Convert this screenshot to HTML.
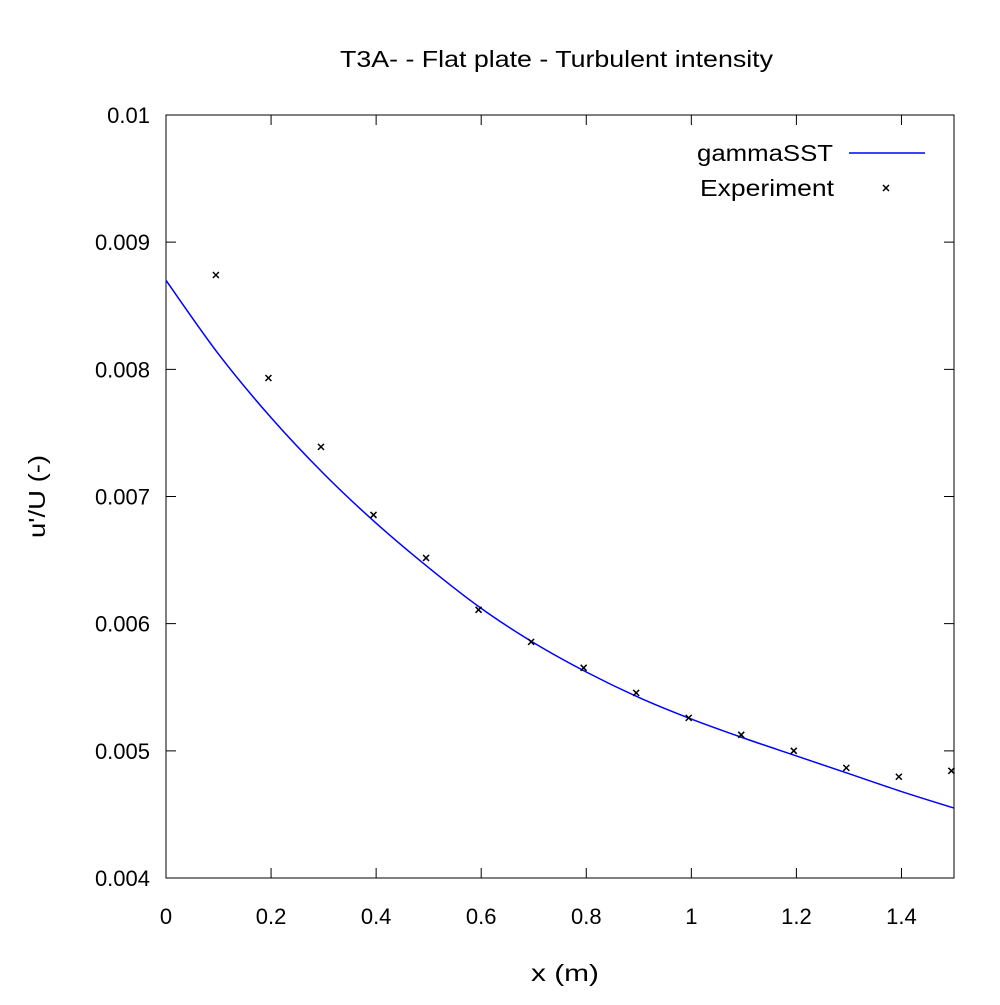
<!DOCTYPE html>
<html><head><meta charset="utf-8"><style>
body{margin:0;background:#fff}
svg text{font-family:"Liberation Sans",sans-serif;fill:#000}
</style></head><body>
<svg width="1000" height="1000" viewBox="0 0 1000 1000">
<g id="axes"></g>
<g id="plot"></g>
<text x="340" y="67" font-size="23" textLength="433" lengthAdjust="spacingAndGlyphs">T3A- - Flat plate - Turbulent intensity</text>
<text x="531" y="981" font-size="23" textLength="68" lengthAdjust="spacingAndGlyphs">x (m)</text>
<text transform="translate(45,538) rotate(-90)" font-size="23" textLength="83" lengthAdjust="spacingAndGlyphs">u'/U (-)</text>
<g>
<text x="697" y="161" font-size="23" textLength="136" lengthAdjust="spacingAndGlyphs">gammaSST</text>
<line x1="849" y1="153" x2="925" y2="153" stroke="#0000ff" stroke-width="1.5"/>
<text x="700" y="196" font-size="23" textLength="134" lengthAdjust="spacingAndGlyphs">Experiment</text>
<path d="M883 185 l6 6 M889 185 l-6 6" stroke="#000" stroke-width="1.5"/>
</g>
</svg>
<script>
const xTicks=[0,0.2,0.4,0.6,0.8,1,1.2,1.4];
const xTickLabels=["0","0.2","0.4","0.6","0.8","1","1.2","1.4"];
const yTicks=[0.004,0.005,0.006,0.007,0.008,0.009,0.01];
const yTickLabels=["0.004","0.005","0.006","0.007","0.008","0.009","0.01"];
const curveX=[0,0.1,0.2,0.3,0.4,0.5,0.6,0.7,0.8,0.9,1.0,1.1,1.2,1.3,1.4,1.5];
const curveY=[0.00870,0.00812,0.00762,0.00718,0.00679,0.00644,0.00612,0.00585,0.00562,0.00542,0.00525,0.00510,0.00496,0.00482,0.00468,0.00455];
const expX=[0.095,0.195,0.295,0.395,0.495,0.595,0.695,0.795,0.895,0.995,1.095,1.195,1.295,1.395,1.495];
const expY=[0.008742,0.007932,0.007390,0.006855,0.006517,0.006109,0.005857,0.005653,0.005456,0.005259,0.005126,0.005000,0.004866,0.004796,0.004843];
const L=166,R=954,T=115,B=878;
const sx=v=>L+(v-0)/1.5*(R-L);
const sy=v=>B-(v-0.004)/0.006*(B-T);
const NS="http://www.w3.org/2000/svg";
function mk(tag,attrs,parent){const e=document.createElementNS(NS,tag);for(const k in attrs)e.setAttribute(k,attrs[k]);parent.appendChild(e);return e;}
const axes=document.getElementById('axes'),plot=document.getElementById('plot');
const frame=mk('rect',{x:L,y:T,width:R-L,height:B-T,fill:'none',stroke:'#000','stroke-width':1},axes);


xTicks.forEach((v,i)=>{
  const x=sx(v);
  const t=mk('path',{d:`M${x} ${B} v-10 M${x} ${T} v10`,stroke:'#000','stroke-width':1},axes);
  
  
  const l=mk('text',{x:x,y:924,'font-size':22,'text-anchor':'middle'},axes);l.textContent=xTickLabels[i];
  
  
});
yTicks.forEach((v,i)=>{
  const y=sy(v);
  const t=mk('path',{d:`M${L} ${y} h10 M${R} ${y} h-10`,stroke:'#000','stroke-width':1},axes);
  
  
  const l=mk('text',{x:150,y:y+8,'font-size':22,'text-anchor':'end'},axes);l.textContent=yTickLabels[i];
  
  
});
const pts=curveX.map((v,i)=>[sx(v),sy(curveY[i])]);
let d=`M${pts[0][0]} ${pts[0][1]}`;
for(let i=0;i<pts.length-1;i++){
  const p0=pts[Math.max(0,i-1)],p1=pts[i],p2=pts[i+1],p3=pts[Math.min(pts.length-1,i+2)];
  d+=` C${p1[0]+(p2[0]-p0[0])/6} ${p1[1]+(p2[1]-p0[1])/6} ${p2[0]-(p3[0]-p1[0])/6} ${p2[1]-(p3[1]-p1[1])/6} ${p2[0]} ${p2[1]}`;
}
const line=mk('path',{d:d,fill:'none',stroke:'#0000ff','stroke-width':1.5},plot);


expX.forEach((v,i)=>{
  const x=sx(v),y=sy(expY[i]);
  const m=mk('path',{d:`M${x-3} ${y-3} l6 6 M${x+3} ${y-3} l-6 6`,stroke:'#000','stroke-width':1.5},plot);
  
  
});
</script>
</body></html>
